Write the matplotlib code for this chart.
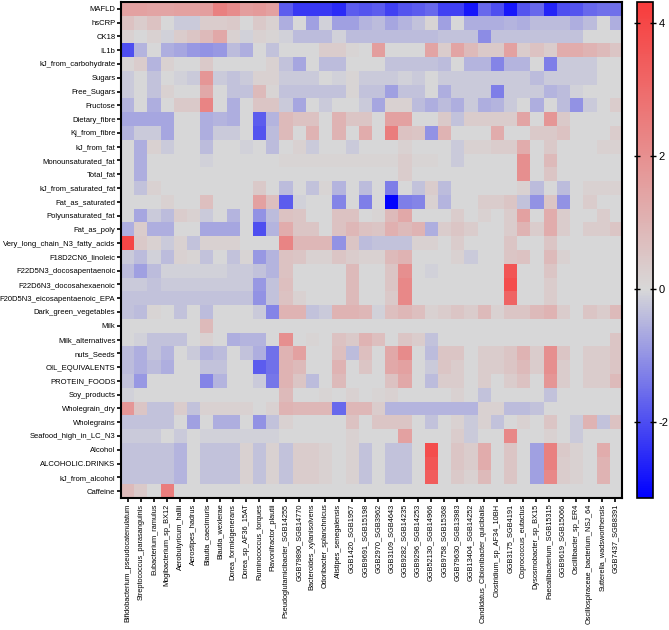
import numpy as np
import matplotlib
matplotlib.use("Agg")
import matplotlib.pyplot as plt
from matplotlib.colors import LinearSegmentedColormap, Normalize

plt.rcParams['font.family'] = ['Liberation Sans', 'DejaVu Sans']
plt.rcParams['axes.unicode_minus'] = False

# Rows (host / diet variables)
row_labels = [
    "MAFLD", "hsCRP", "CK18", "IL1b",
    "kJ_from_carbohydrate", "Sugars", "Free_Sugars", "Fructose", "Dietary_fibre", "Kj_from_fibre",
    "kJ_from_fat", "Monounsaturated_fat", "Total_fat", "kJ_from_saturated_fat", "Fat_as_saturated",
    "Polyunsaturated_fat", "Fat_as_poly", "Very_long_chain_N3_fatty_acids", "F18D2CN6_linoleic",
    "F22D5N3_docosapentaenoic", "F22D6N3_docosahexaenoic", "F20D5N3_eicosapentaenoic_EPA",
    "Dark_green_vegetables", "Milk", "Milk_alternatives", "nuts_Seeds", "OIL_EQUIVALENTS",
    "PROTEIN_FOODS", "Soy_products", "Wholegrain_dry", "Wholegrains", "Seafood_high_in_LC_N3",
    "Alcohol", "ALCOHOLIC.DRINKS", "kJ_from_alcohol", "Caffeine",
]

# Columns (taxa)
col_labels = [
    "Bifidobacterium_pseudocatenulatum", "Streptococcus_parasanguinis", "Eubacterium_ramulus",
    "Mogibacterium_sp_BX12", "Aerobutyricum_hallii", "Aerostipes_hadrus", "Blautia_caecimuris",
    "Blautia_wexlerae", "Dorea_formicigenerans", "Dorea_sp_AF36_15AT", "Ruminococcus_torques",
    "Flavonifractor_plautii", "Pseudoglutamicibacter_SGB14255", "GGB79890_SGB14770",
    "Bacteroides_xylanisolvens", "Odoribacter_splanchnicus", "Alistipes_senegalensis",
    "GGB1420_SGB1957", "GGB9691_SGB15198", "GGB2970_SGB3962", "GGB3109_SGB4643",
    "GGB9282_SGB14235", "GGB9296_SGB14253", "GGB52130_SGB14966", "GGB9758_SGB15368",
    "GGB79630_SGB13983", "GGB13404_SGB14252", "Candidatus_Cibionibacter_quicibialis",
    "Clostridium_sp_AF34_10BH", "GGB3175_SGB4191", "Coprococcus_eutactus",
    "Dysosmobacter_sp_BX15", "Faecalibacterium_SGB15315", "GGB9619_SGB15066",
    "Oscillibacter_sp_ER4", "Oscillospiraceae_bacterium_NSJ_64", "Sutterella_wadsworthensis",
    "GGB7437_SGB8391",
]

# clinical markers
clinical = [
    [1.5, 1.5, 1.4, 1.4, 1.5, 1.5, 1.6, 2.4, 2.1, 1.6, 1.7, 1.5,
     -1.8, -2.3, -2.3, -2.3, -2.5, -1.8, -1.9, -1.8, -2.2, -1.9, -1.8, -1.6,
     -2.2, -2.2, -2.8, -1.6, -2.0, -2.8, -1.9, -1.6, -2.6, -2.0, -1.9, -1.6, -1.5, -1.5],
    [0.6, 0.3, 0.6, 0.0, -0.2, -0.2, 0.3, 0.3, 0.4, 0.0, 0.4, 0.2,
     -0.6, 0.0, -0.8, -0.1, -0.8, -0.8, -0.5, -0.4, -0.7, -0.5, -0.3, 0.1,
     -0.8, 0.0, -0.6, -0.6, -0.6, -0.5, -0.6, -0.4, -0.4, -0.4, -0.6, -0.4, 0.0, -0.6],
    [0.2, 0.0, 0.2, -0.1, 0.3, 0.5, 0.8, 1.3, 0.2, -0.1, 0.2, 0.1,
     -0.1, -0.4, -0.4, -0.4, -0.1, -0.4, -0.4, -0.4, -0.4, -0.4, -0.4, -0.4,
     -0.3, -0.3, -0.3, -1.1, -0.3, -0.3, -0.3, -0.3, -0.3, -0.3, -0.3, 0.0, 0.0, 0.0],
    [-2.0, -0.5, 0.0, -0.6, -0.7, -0.9, -1.0, -0.9, -0.4, -0.6, 0.0, -0.3,
     0.0, 0.0, 0.0, 0.3, 0.3, 0.1, 0.0, 1.6, 0.0, 0.0, 0.0, 1.4,
     0.3, 1.4, 0.8, 0.4, 0.4, 1.5, 0.3, 0.6, 0.3, 1.2, 1.2, 1.0, 0.8, 0.5],
]

# carbohydrate / fibre intake
carbs = [
    [0.1, 0.3, -0.5, 0.2, 0.0, 0.0, 0.4, 0.0, 0.0, 0.0, 0.0, 0.2,
     -0.3, -0.7, 0.0, -0.4, -0.4, 0.0, 0.0, 0.0, -0.3, -0.3, -0.3, -0.3,
     -0.4, 0.0, -0.5, -0.5, -1.2, -0.5, -0.5, 0.0, -1.3, -0.2, -0.2, -0.2, 0.0, 0.0],
    [-0.2, 0.0, -0.3, 0.0, -0.1, -0.2, 1.8, -0.2, -0.3, -0.2, 0.2, 0.2,
     -0.2, -0.2, -0.2, 0.0, -0.1, 0.1, -0.2, -0.2, -0.2, -0.1, -0.2, 0.0,
     -0.2, -0.2, -0.2, -0.2, -0.2, -0.2, -0.2, -0.4, -0.2, -0.2, -0.2, -0.2, 0.0, 0.0],
    [-0.2, 0.0, -0.3, 0.2, 0.0, 0.0, 1.3, 0.0, -0.3, -0.3, 0.8, 0.1,
     -0.3, -0.3, -0.3, -0.3, -0.3, 0.1, -0.3, -0.3, -0.8, -0.3, -0.3, 0.0,
     -0.6, -0.2, -0.2, -0.2, -1.3, -0.2, -0.2, -0.2, -0.5, -0.4, -0.1, 0.0, 0.0, 0.0],
    [-0.5, 0.0, -0.6, 0.0, 0.4, 0.4, 2.3, 0.0, -0.6, 0.0, 0.5, 0.5,
     -0.2, -0.7, 0.0, -0.2, 0.0, 0.0, -0.2, -0.7, 0.2, 0.2, -0.4, -0.6,
     -0.4, -0.6, -0.2, -0.6, -0.5, -0.2, 0.0, -0.6, 0.0, -0.4, -1.0, -0.2, 0.0, 0.3],
    [-0.7, -0.7, -0.7, -0.7, 0.0, 0.0, -0.6, -0.5, -0.6, 0.0, -1.8, -0.5,
     0.8, 0.6, 0.6, 0.0, 1.0, 0.5, 0.5, 0.0, 1.5, 1.5, 0.0, 0.0,
     0.4, -0.3, 0.3, 0.3, 0.3, 0.3, 1.4, 0.0, 1.8, 0.4, 0.0, 0.0, 0.0, 0.0],
    [-0.5, -0.2, -0.2, -0.7, 0.0, 0.0, -0.6, -0.2, -0.2, 0.0, -1.9, -0.4,
     0.8, 0.0, 1.0, 0.0, 1.0, 0.0, 1.2, 0.0, 2.5, 0.6, 0.5, -1.0,
     1.0, 0.0, 0.0, 0.0, 1.2, 0.0, 0.0, 0.4, 0.4, 0.6, 0.0, 0.0, 0.0, 0.3],
]

# fat intake
fats = [
    [0.0, -0.6, 0.2, -0.2, 0.0, 0.0, -0.4, 0.0, 0.0, -0.1, 0.0, -0.4,
     0.0, 0.2, -0.2, 0.0, 0.0, -0.2, 0.0, 0.0, 0.0, 0.2, 0.0, 0.0,
     0.0, -0.2, 0.2, 0.2, 0.3, 0.3, 1.2, 0.0, 0.4, 0.0, 0.0, 0.0, 0.2, 0.2],
    [0.0, -0.6, 0.0, 0.0, 0.0, 0.0, -0.1, 0.0, 0.0, 0.0, 0.0, 0.0,
     0.1, 0.1, 0.1, 0.1, 0.1, 0.1, 0.1, 0.1, 0.1, 0.3, 0.1, 0.1,
     0.0, -0.2, 0.0, 0.0, 0.0, 0.0, 2.0, 0.0, 0.8, 0.0, 0.0, 0.0, 0.0, 0.0],
    [0.0, -0.6, 0.0, 0.0, 0.0, 0.0, 0.0, 0.0, 0.0, 0.0, 0.0, 0.0,
     0.0, 0.0, 0.0, 0.0, 0.0, 0.0, 0.0, 0.0, 0.0, 0.3, 0.0, 0.0,
     0.0, 0.0, 0.0, 0.0, 0.0, 0.0, 2.0, 0.0, 0.5, 0.0, 0.0, 0.0, 0.0, 0.0],
    [0.0, -0.3, 0.2, 0.0, 0.0, 0.0, 0.0, 0.0, 0.0, 0.0, 0.4, 0.0,
     -0.4, 0.0, -0.3, 0.1, -0.5, 0.0, -0.4, 0.0, -1.3, 0.0, -0.3, 0.3,
     -0.4, 0.0, 0.0, 0.0, 0.0, 0.0, 0.2, -0.4, 0.0, -0.4, 0.0, 0.2, 0.2, 0.2],
    [0.0, 0.0, 0.0, 0.2, 0.0, 0.0, 0.7, 0.0, 0.0, 0.0, 1.5, 0.7,
     -1.8, -0.1, 0.0, 0.0, -1.2, 0.0, -1.3, 0.0, -3.1, -1.3, -1.2, 0.2,
     -0.5, 0.0, 0.0, 0.3, 0.3, 0.5, -0.3, -1.0, 0.5, -1.0, 0.0, 0.3, 0.0, 0.0],
    [0.0, -0.7, -0.2, -0.4, 0.3, 0.2, -0.2, 0.0, -0.5, 0.0, -1.0, -0.4,
     0.6, 0.5, 0.0, 0.0, 0.6, 0.6, 0.0, 0.1, 0.8, 1.3, 0.0, 0.0,
     0.0, 0.3, 0.0, 0.2, 0.0, 0.3, 1.5, 0.0, 1.2, 0.3, 0.0, 0.0, 0.3, 0.0],
    [-0.6, 0.3, -0.6, -0.6, 0.0, 0.0, -0.7, -0.7, -0.7, 0.0, -2.0, -0.5,
     1.2, 0.5, 0.5, 0.0, 0.6, 0.9, 0.6, 0.5, 1.1, 0.8, 1.0, -0.6,
     0.3, 0.5, 0.3, 0.0, 0.0, 0.3, 1.0, 0.3, 1.2, 0.3, 0.0, 0.3, 0.3, 0.5],
    [4.0, 0.4, 0.2, -0.2, 0.2, -0.3, 0.2, 0.2, 0.2, 0.0, 0.0, 0.0,
     2.3, 0.9, 0.9, 0.9, -1.0, 0.5, -0.4, -0.3, -0.3, -0.3, 0.2, 0.2,
     0.0, 0.3, 0.0, 0.0, 0.0, 0.5, 0.0, 0.0, 0.5, 0.0, 0.0, 0.0, 0.0, 0.0],
    [-0.2, -0.4, -0.1, -0.4, 0.2, 0.1, -0.3, 0.0, -0.3, 0.1, -0.9, -0.5,
     0.6, 0.5, 0.2, 0.2, 0.5, 0.3, 0.2, 0.2, 0.8, 1.0, 0.0, 0.0,
     0.0, 0.2, -0.2, 0.0, 0.0, 0.5, 0.6, 0.0, 0.8, 0.2, 0.0, 0.0, 0.0, 0.0],
    [-0.4, -0.8, -0.4, -0.1, -0.1, -0.1, -0.1, -0.1, -0.2, -0.2, -0.3, -0.5,
     0.6, 0.0, 0.0, 0.0, 0.0, 0.8, 0.0, 0.0, 0.5, 2.0, 0.0, -0.1,
     0.0, 0.0, 0.0, 0.0, 0.0, 3.6, 0.0, 0.0, 0.5, 0.0, 0.0, 0.0, 0.0, 0.0],
    [-0.2, -0.2, -0.3, -0.2, -0.2, -0.2, -0.2, -0.2, -0.2, -0.2, -0.9, -0.3,
     0.7, 0.0, 0.0, 0.0, 0.0, 0.8, 0.0, 0.0, 0.5, 2.2, 0.0, 0.0,
     0.0, 0.0, 0.0, 0.0, 0.0, 3.8, 0.0, 0.0, 0.3, 0.0, 0.0, 0.0, 0.0, 0.0],
    [-0.3, -0.3, -0.3, -0.3, -0.3, -0.3, -0.3, -0.3, -0.3, -0.3, -1.0, -0.3,
     0.6, 0.2, 0.0, 0.0, 0.0, 0.8, 0.0, 0.0, 0.4, 2.2, 0.0, 0.0,
     0.0, 0.0, 0.0, 0.0, 0.0, 3.2, 0.0, 0.0, 0.3, 0.0, 0.0, 0.0, 0.0, 0.0],
]

# food groups
foods = [
    [-0.3, -0.4, 0.1, 0.0, -0.3, 0.0, -0.4, 0.0, 0.0, 0.0, -0.2, -1.2,
     1.0, 1.0, -0.3, -0.2, 1.0, 1.0, 0.9, -0.1, 0.7, 0.9, 0.7, 0.2,
     0.3, 0.5, 0.3, 0.8, 0.2, 0.5, 0.5, 0.8, 1.0, 0.3, 0.0, 0.5, 0.3, 0.8],
    [0.0, 0.0, 0.0, 0.0, 0.0, 0.0, 0.8, 0.0, 0.0, 0.0, 0.0, 0.0,
     0.0, 0.0, 0.0, 0.0, 0.0, 0.0, 0.0, 0.0, 0.0, 0.0, 0.0, 0.0,
     0.0, 0.0, 0.0, 0.0, 0.0, 0.0, 0.0, 0.0, 0.0, 0.0, 0.0, 0.0, 0.0, 0.0],
    [0.0, -0.1, -0.3, -0.3, -0.3, 0.0, 0.2, 0.0, -0.6, -0.5, -0.5, 0.0,
     2.0, 0.0, 0.1, 0.0, 0.6, 0.4, 1.0, 0.7, 0.0, 0.5, 0.3, -0.3,
     0.0, 0.0, 0.0, 0.0, 0.0, 0.0, 0.0, 0.0, 0.0, 0.0, 0.0, 0.0, 0.0, 0.5],
    [-0.4, -0.6, -0.3, -0.5, 0.0, -0.2, -0.5, -0.4, 0.0, -0.3, -0.6, -1.5,
     1.0, 1.5, 0.0, 0.0, 0.7, -0.4, 0.7, 0.0, 1.3, 2.1, 0.0, -0.4,
     0.5, 0.5, 0.0, 0.3, 0.3, 0.5, 1.0, 0.3, 2.0, 0.5, 0.0, 0.3, 0.3, 0.5],
    [-0.4, -0.6, -0.4, -0.6, 0.0, 0.0, -0.3, -0.3, 0.0, 0.0, -1.8, -1.5,
     1.0, 0.8, 0.0, 0.0, 1.0, 0.0, 0.5, 0.0, 1.3, 1.5, 0.0, -0.2,
     0.5, 0.3, 0.0, 0.3, 0.3, 0.5, 0.8, 0.3, 2.0, 0.3, 0.0, 0.3, 0.3, 0.5],
    [-0.3, -0.9, 0.0, 0.0, 0.0, 0.0, -1.2, -0.5, 0.0, 0.0, -0.2, -1.4,
     1.0, 0.5, -0.4, 0.0, 0.8, 0.0, 0.0, 0.0, 0.6, 1.3, 0.0, -0.4,
     0.3, 0.3, 0.0, 0.3, 0.0, 0.3, 0.6, 0.0, 1.8, 0.3, 0.0, 0.3, 0.3, 0.8],
    [-0.1, 0.0, 0.0, 0.0, 0.0, 0.0, 0.0, 0.0, 0.0, 0.0, 0.0, 0.0,
     0.8, 0.0, 0.0, 0.1, 0.0, 0.2, 0.0, 0.1, 0.2, 0.0, 0.0, 0.0,
     0.0, 0.2, 0.0, -0.3, 0.0, 0.0, 0.0, 0.0, -0.3, 0.0, 0.0, 0.0, 0.0, 0.0],
    [1.8, 0.5, -0.3, -0.3, 0.3, -0.3, 0.2, 0.2, 0.2, 0.2, 0.0, 0.2,
     1.0, 0.9, 0.9, 0.9, -1.6, 0.9, 0.9, 0.3, -0.5, -0.5, -0.5, -0.5,
     -0.5, -0.5, -0.5, 0.2, 0.2, -0.4, -0.4, -0.3, 0.0, 0.0, 0.0, 0.0, 0.0, 0.0],
    [-0.3, -0.3, -0.3, -0.3, 0.0, -0.8, 0.0, -0.6, -0.6, 0.0, -1.0, -0.3,
     0.2, 0.0, 0.0, 0.0, 0.0, 0.6, 0.0, 0.5, 0.5, 0.5, 0.0, -0.3,
     0.0, 0.2, -0.2, 0.2, -0.3, 0.0, 0.2, 0.0, 0.5, 0.0, -0.2, 1.0, -0.3, 0.6],
    [-0.2, -0.2, -0.2, 0.0, -0.2, 0.0, -0.1, -0.1, -0.1, -0.1, -0.1, -0.1,
     0.0, 0.0, 0.0, 0.0, 0.0, 0.2, 0.0, 0.0, 0.0, 1.5, 0.0, 0.0,
     0.0, 0.3, -0.2, 0.0, 0.0, 2.2, 0.0, 0.0, 0.2, 0.0, -0.2, 0.0, 0.0, 0.0],
]

# alcohol and caffeine
alcohol_caffeine = [
    [-0.3, -0.3, -0.3, -0.3, -0.5, 0.0, -0.3, -0.3, -0.3, 0.2, -0.3, 0.2,
     -0.3, 0.3, 0.3, 0.2, 0.0, 0.2, -0.3, 0.0, -0.3, -0.3, 0.0, 3.8,
     0.0, 0.5, 0.3, 1.2, 0.0, 0.5, 0.0, -0.8, 2.4, 0.4, 0.2, 0.0, 1.2, 0.0],
    [-0.3, -0.3, -0.3, -0.3, -0.5, 0.0, -0.3, -0.3, -0.3, 0.2, -0.3, 0.2,
     -0.3, 0.3, 0.3, 0.2, 0.0, 0.2, -0.3, 0.0, -0.3, -0.3, 0.0, 3.6,
     0.0, 0.5, 0.3, 1.2, 0.0, 0.5, 0.0, -0.8, 2.4, 0.3, 0.2, 0.0, 1.0, 0.0],
    [-0.3, -0.3, -0.3, -0.3, -0.5, 0.0, -0.3, -0.3, -0.3, 0.2, -0.3, 0.2,
     -0.3, 0.3, 0.3, 0.2, 0.0, 0.2, -0.3, 0.0, -0.3, -0.3, 0.0, 3.4,
     0.0, 0.4, 0.2, 0.8, 0.0, 0.5, 0.0, -0.8, 2.2, 0.3, 0.2, 0.0, 1.0, 0.0],
    [0.8, 0.4, 0.0, 2.5, 0.0, 0.0, 0.0, 0.0, 0.0, 0.0, 0.0, 0.0,
     0.0, 0.0, 0.0, 0.0, 0.0, 0.0, 0.0, 0.0, 0.0, 0.0, 0.0, 0.0,
     0.0, 0.0, 0.0, 0.0, 0.0, 0.0, 0.0, 0.0, 0.0, 0.0, 0.0, 0.0, 0.0, 0.0],
]

data = np.array(clinical + carbs + fats + foods + alcohol_caffeine)

vmin, vmax = -3.14, 4.31
mid = (0 - vmin) / (vmax - vmin)
cmap = LinearSegmentedColormap.from_list(
    "bgr", [(0.0, "#0000FF"), (mid, "#D8D8D8"), (1.0, "#F83C3C")])
norm = Normalize(vmin=vmin, vmax=vmax)

fig = plt.figure(figsize=(6.69, 6.30), dpi=100)
ax = fig.add_axes([121 / 669, 1 - 498 / 630, 501 / 669, 496 / 630])
cax = fig.add_axes([637 / 669, 1 - 498 / 630, 16 / 669, 496 / 630])

im = ax.imshow(data, aspect='auto', cmap=cmap, norm=norm, interpolation='nearest')

ax.set_xticks(np.arange(len(col_labels)))
ax.set_xticklabels(col_labels, rotation=90, fontsize=5.3)
ax.set_yticks(np.arange(len(row_labels)))
ax.set_yticklabels(row_labels, fontsize=5.5)
ax.tick_params(axis='both', length=3, width=1.2, pad=1)
for s in ax.spines.values():
    s.set_linewidth(1.5)

cb = fig.colorbar(im, cax=cax, ticks=[-2, 0, 2, 4])
cb.outline.set_linewidth(1.2)
cax.yaxis.set_ticks_position('both')
cax.tick_params(labelsize=8, length=4, width=1, direction='inout', pad=2)

fig.savefig("out.png", dpi=100)
